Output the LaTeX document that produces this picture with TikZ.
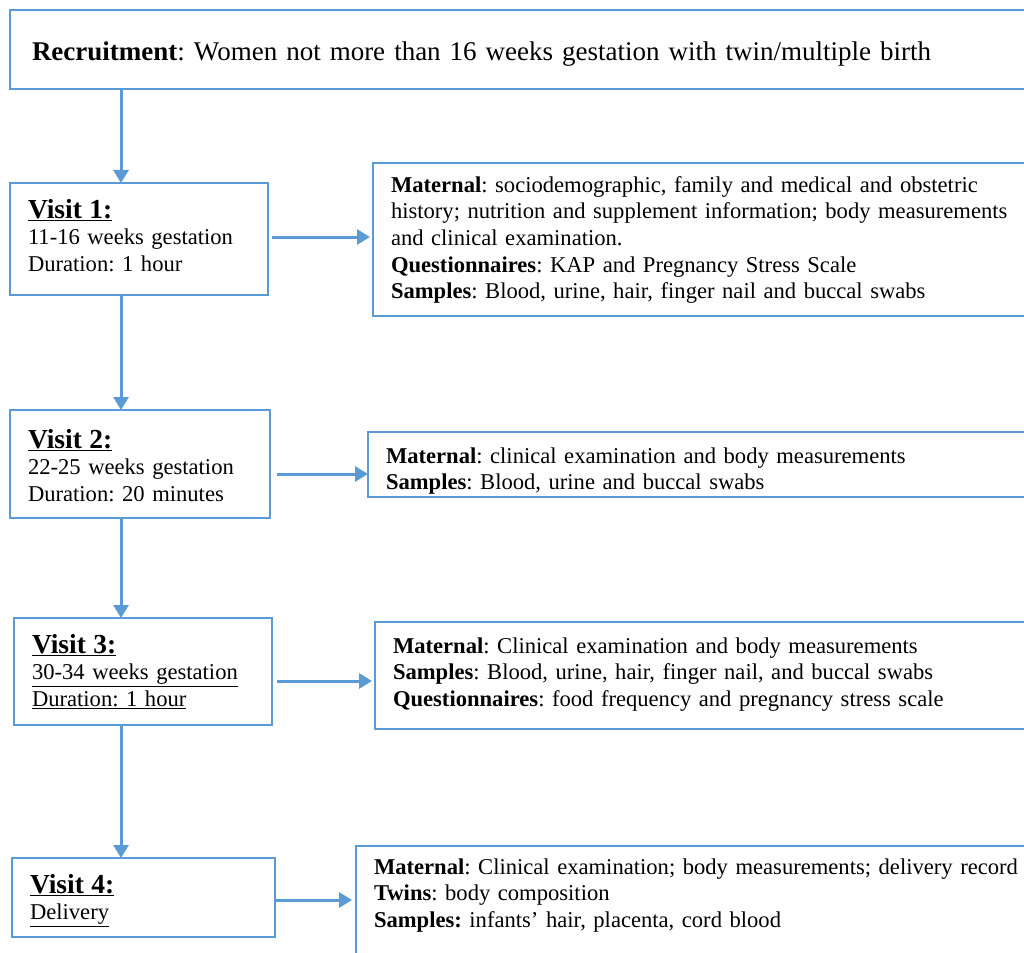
\documentclass[tikz,border=0pt]{standalone}
\usepackage{fontspec}
\setmainfont{Liberation Serif}
\usetikzlibrary{calc,arrows.meta}
\definecolor{flowblue}{RGB}{91,155,213}
\newcommand{\vhead}[1]{{\fontsize{27.5}{26.8}\selectfont\bfseries\underline{#1}}}
\frenchspacing

\begin{document}
\begin{tikzpicture}[x=1pt,y=-1pt,
	flowbox/.style={draw=flowblue, line width=2pt, anchor=north west,
		inner xsep=18pt, inner ysep=0pt, outer sep=0pt, align=left,
		font=\fontsize{22.6}{26.7}\selectfont},
	flow/.style={draw=flowblue, line width=3pt,
		-{Triangle[width=15pt,length=13pt]}}]

	\useasboundingbox (0,0) rectangle (1024,952);
	\fill[white] (0,0) rectangle (1024,952);
	\clip (0,0) rectangle (1024,952);

	% recruitment
	\node[flowbox, inner xsep=22pt, text width=1100pt, text height=51pt, text depth=28pt,
		font=\fontsize{27}{30}\selectfont] (recruit) at (10,10)
		{\textbf{Recruitment}: Women not more than 16 weeks gestation with twin/multiple birth};

	% visits
	\node[flowbox, text width=222pt, text height=35pt, text depth=77pt] (v1) at (10,183)
		{\vhead{Visit 1:}\\ 11-16 weeks gestation\\ Duration: 1 hour};
	\node[flowbox, text width=224pt, text height=38pt, text depth=70pt] (v2) at (10,410)
		{\vhead{Visit 2:}\\ 22-25 weeks gestation\\ Duration: 20 minutes};
	\node[flowbox, text width=222pt, text height=35pt, text depth=72pt] (v3) at (14,618)
		{\vhead{Visit 3:}\\ \underline{30-34 weeks gestation}\\ \underline{Duration: 1 hour}};
	\node[flowbox, text width=227pt, text height=35pt, text depth=44pt] (v4) at (12,858)
		{\vhead{Visit 4:}\\ \underline{Delivery}};

	% measures
	\node[flowbox, text width=900pt, text height=29pt, text depth=124pt] (m1) at (373,163)
		{\textbf{Maternal}: sociodemographic, family and medical and obstetric\\
		 history; nutrition and supplement information; body measurements\\
		 and clinical examination.\\
		 \textbf{Questionnaires}: KAP and Pregnancy Stress Scale\\
		 \textbf{Samples}: Blood, urine, hair, finger nail and buccal swabs};
	\node[flowbox, text width=900pt, text height=31pt, text depth=34pt] (m2) at (368,432)
		{\textbf{Maternal}: clinical examination and body measurements\\
		 \textbf{Samples}: Blood, urine and buccal swabs};
	\node[flowbox, text width=900pt, text height=31pt, text depth=76pt] (m3) at (375,622)
		{\textbf{Maternal}: Clinical examination and body measurements\\
		 \textbf{Samples}: Blood, urine, hair, finger nail, and buccal swabs\\
		 \textbf{Questionnaires}: food frequency and pregnancy stress scale};
	\node[flowbox, text width=900pt, text height=28pt, text depth=200pt] (m4) at (356,846)
		{\textbf{Maternal}: Clinical examination; body measurements; delivery record\\
		 \textbf{Twins}: body composition\\
		 \textbf{Samples:} infants’ hair, placenta, cord blood};

	% down the spine
	\coordinate (spine) at (121,0);
	\draw[flow] (spine |- recruit.south) -- (spine |- v1.north);
	\draw[flow] (spine |- v1.south) -- (spine |- v2.north);
	\draw[flow] (spine |- v2.south) -- (spine |- v3.north);
	\draw[flow] (spine |- v3.south) -- (spine |- v4.north);

	% across
	\draw[flow] ($(v1.east)+(4,-2)$) -- ($(v1.east -| m1.west)+(-3,-2)$);
	\draw[flow] ($(v2.east)+(7,10)$) -- ($(v2.east -| m2.west)+(0,10)$);
	\draw[flow] ($(v3.east)+(5,9.5)$) -- ($(v3.east -| m3.west)+(-3,9.5)$);
	\draw[flow] ($(v4.east)+(0,2.5)$) -- ($(v4.east -| m4.west)+(-4,2.5)$);

\end{tikzpicture}
\end{document}
